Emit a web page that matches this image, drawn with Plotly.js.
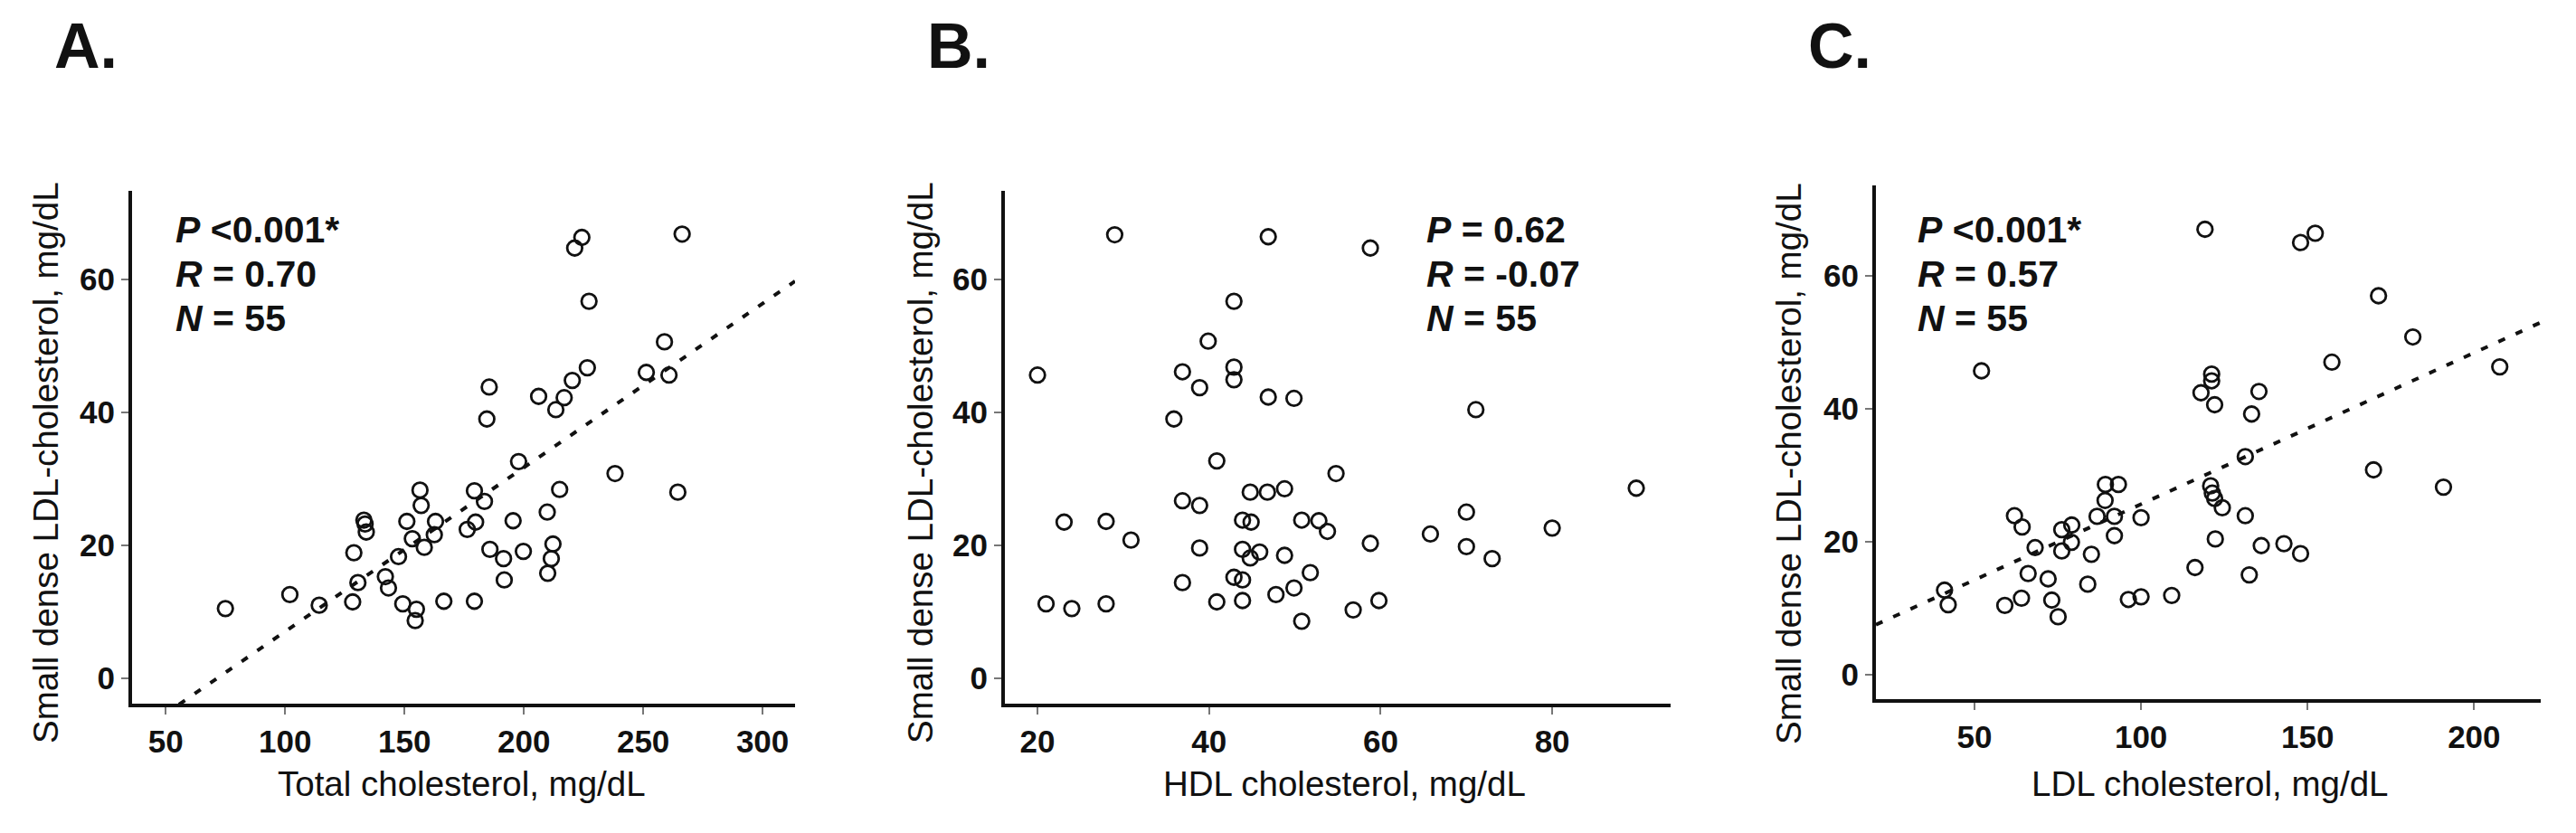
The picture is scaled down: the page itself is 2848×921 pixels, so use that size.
<!DOCTYPE html>
<html>
<head>
<meta charset="utf-8">
<script src="https://cdn.plot.ly/plotly-3.0.1.min.js"></script>
<style>html,body{margin:0;padding:0;background:#fff;}#chart{width:2848px;height:921px;}</style>
</head>
<body>
<div id="chart"></div>
<script>
// ---------- Data ----------
const panelLabels = ["A.", "B.", "C."];
const xTitles = ["Total cholesterol, mg/dL", "HDL cholesterol, mg/dL", "LDL cholesterol, mg/dL"];
const yTitle = "Small dense LDL-cholesterol, mg/dL";

const A_x = [75, 102, 114.3, 128.8, 130.5, 128.3, 133, 133.5, 134, 142, 143.3, 147.5, 149.3, 155, 154.5, 151, 153.3, 156.5, 157, 163, 162.5, 158.3, 166.5, 179.3, 185.5, 184.5, 179.3, 183.5, 179.8, 176.3, 195.5, 185.8, 191.5, 199.8, 191.8, 197.8, 206.2, 213.4, 216.9, 220.3, 221.3, 224.3, 227.3, 226.6, 209.8, 215, 212.2, 211.5, 210, 238.2, 251.3, 258.9, 260.8, 266.3, 264.5];
const A_y = [10.5, 12.6, 11.0, 18.9, 14.4, 11.5, 23.8, 23.2, 22.0, 15.3, 13.6, 18.3, 11.2, 10.4, 8.7, 23.6, 21.0, 28.3, 26.0, 23.6, 21.6, 19.7, 11.6, 11.6, 43.8, 39.0, 28.2, 26.6, 23.5, 22.4, 23.7, 19.4, 18.0, 19.1, 14.8, 32.6, 42.4, 40.4, 42.2, 44.8, 64.7, 66.3, 56.7, 46.7, 25.0, 28.4, 20.2, 18.0, 15.8, 30.8, 46.0, 50.6, 45.6, 66.8, 28.0];

const B_x = [29.0, 46.9, 58.8, 42.9, 39.9, 20.0, 36.9, 42.9, 42.9, 38.9, 46.9, 49.9, 35.9, 40.9, 54.8, 44.8, 46.8, 48.8, 36.9, 38.9, 23.1, 28.0, 30.9, 43.9, 44.9, 50.8, 52.8, 53.8, 65.8, 58.8, 38.9, 43.9, 45.9, 44.8, 48.8, 51.8, 36.9, 42.9, 43.9, 49.9, 47.8, 21.0, 24.0, 28.0, 40.9, 43.9, 50.8, 56.8, 59.8, 70.0, 71.1, 70.0, 73.0, 80.0, 89.8];
const B_y = [66.7, 66.4, 64.7, 56.7, 50.7, 45.6, 46.1, 46.8, 44.9, 43.7, 42.3, 42.1, 39.0, 32.7, 30.8, 28.0, 28.0, 28.5, 26.7, 26.0, 23.5, 23.6, 20.8, 23.8, 23.5, 23.8, 23.7, 22.1, 21.7, 20.3, 19.6, 19.4, 19.0, 18.1, 18.5, 15.9, 14.4, 15.2, 14.8, 13.6, 12.6, 11.2, 10.5, 11.2, 11.5, 11.7, 8.6, 10.3, 11.7, 25.0, 40.4, 19.8, 18.0, 22.6, 28.6];

const C_x = [119.2, 147.9, 152.3, 52.1, 121.2, 121.2, 118.0, 122.1, 135.4, 133.2, 131.3, 120.9, 121.4, 122.1, 124.4, 131.3, 122.3, 136.1, 142.9, 147.9, 116.2, 132.5, 109.2, 100.0, 96.2, 89.3, 93.2, 89.2, 86.8, 92.0, 100.0, 92.0, 62.0, 64.3, 68.2, 76.2, 79.2, 79.1, 76.2, 85.1, 66.1, 72.1, 84.0, 64.1, 59.1, 73.2, 75.1, 41.0, 42.1, 171.3, 181.6, 157.3, 207.7, 169.8, 190.8];
const C_y = [67.0, 65.0, 66.4, 45.7, 45.2, 44.2, 42.4, 40.6, 42.6, 39.2, 32.8, 28.4, 27.3, 26.5, 25.1, 23.9, 20.4, 19.4, 19.7, 18.2, 16.1, 15.0, 11.9, 11.7, 11.3, 28.6, 28.6, 26.2, 23.8, 23.8, 23.6, 20.9, 23.9, 22.2, 19.1, 21.8, 22.5, 19.9, 18.6, 18.1, 15.2, 14.4, 13.6, 11.5, 10.4, 11.2, 8.7, 12.7, 10.5, 57.0, 50.8, 47.0, 46.3, 30.8, 28.2];

const A_xticks = [50, 100, 150, 200, 250, 300];
const B_xticks = [20, 40, 60, 80];
const C_xticks = [50, 100, 150, 200];
const yticks = [0, 20, 40, 60];

const A_stats = ["<i>P</i> &lt;0.001*", "<i>R</i> = 0.70", "<i>N</i> = 55"];
const B_stats = ["<i>P</i> = 0.62", "<i>R</i> = -0.07", "<i>N</i> = 55"];
const C_stats = ["<i>P</i> &lt;0.001*", "<i>R</i> = 0.57", "<i>N</i> = 55"];

// ---------- Helpers ----------
const W = 2848, H = 921;
const FONT = "Liberation Sans, Arial, Helvetica, sans-serif";
const px = v => v / W;
const py = v => 1 - v / H;

function ols(x, y) {
  const n = x.length;
  const mx = x.reduce((a, b) => a + b, 0) / n;
  const my = y.reduce((a, b) => a + b, 0) / n;
  let sxy = 0, sxx = 0;
  for (let i = 0; i < n; i++) { sxy += (x[i] - mx) * (y[i] - my); sxx += (x[i] - mx) ** 2; }
  const b = sxy / sxx;
  return { b: b, a: my - b * mx };
}

// panel geometry (pixels)
const panels = [
  { x: A_x, y: A_y, ticks: A_xticks, xr: [35.9, 313.6], yr: [-3.8, 73.3], left: 146, right: 879, top: 211, bottom: 778, fit: true,
    stats: A_stats, statX: 192, yTitleX: 50, xTitleX: 510, label: 58 },
  { x: B_x, y: B_y, ticks: B_xticks, xr: [16.2, 93.8], yr: [-3.8, 73.3], left: 1111, right: 1847, top: 211, bottom: 778, fit: false,
    stats: B_stats, statX: 1575, yTitleX: 1017, xTitleX: 1486, label: 1023 },
  { x: C_x, y: C_y, ticks: C_xticks, xr: [20.4, 220], yr: [-3.7, 73.6], left: 2074, right: 2809, top: 205, bottom: 773, fit: true,
    stats: C_stats, statX: 2118, yTitleX: 1977, xTitleX: 2443, label: 1997 }
];

const traces = [];
const layout = {
  width: W, height: H,
  margin: { l: 0, r: 0, t: 0, b: 0 },
  paper_bgcolor: "#ffffff", plot_bgcolor: "#ffffff",
  showlegend: false,
  font: { family: FONT, color: "#111111" },
  annotations: []
};

panels.forEach((p, i) => {
  const s = i === 0 ? "" : String(i + 1);
  const xa = "x" + s, ya = "y" + s;
  if (p.fit) {
    const f = ols(p.x, p.y);
    traces.push({
      type: "scatter", mode: "lines", xaxis: xa, yaxis: ya, hoverinfo: "skip",
      x: [p.xr[0], p.xr[1]], y: [f.a + f.b * p.xr[0], f.a + f.b * p.xr[1]],
      line: { color: "#111111", width: 4, dash: "8px,13px" }
    });
  }
  traces.push({
    type: "scatter", mode: "markers", xaxis: xa, yaxis: ya,
    x: p.x, y: p.y,
    marker: { symbol: "circle-open", size: 16.5, color: "#111111", line: { width: 2.8, color: "#111111" } }
  });

  const common = {
    showgrid: false, zeroline: false, showline: true, linecolor: "#111111", linewidth: 4,
    ticks: "outside", ticklen: 8, tickwidth: 2, tickcolor: "#777777",
    tickfont: { family: FONT, size: 35, color: "#111111", weight: "bold" },
    fixedrange: true
  };
  layout["xaxis" + s] = Object.assign({}, common, {
    domain: [px(p.left), px(p.right)], range: p.xr, anchor: ya,
    tickmode: "array", tickvals: p.ticks, ticktext: p.ticks.map(String)
  });
  layout["yaxis" + s] = Object.assign({}, common, {
    domain: [py(p.bottom), py(p.top)], range: p.yr, anchor: xa,
    tickmode: "array", tickvals: yticks, ticktext: yticks.map(String)
  });

  // panel label
  layout.annotations.push({
    xref: "paper", yref: "paper", x: px(p.label), y: py(51), xanchor: "left", yanchor: "middle",
    text: "<b>" + panelLabels[i] + "</b>", showarrow: false,
    font: { family: FONT, size: 70, color: "#111111" }
  });
  // y title
  layout.annotations.push({
    xref: "paper", yref: "paper", x: px(p.yTitleX), y: py(512), xanchor: "center", yanchor: "middle",
    text: yTitle, textangle: -90, showarrow: false,
    font: { family: FONT, size: 38.5, color: "#111111" }
  });
  // x title
  layout.annotations.push({
    xref: "paper", yref: "paper", x: px(p.xTitleX), y: py(866), xanchor: "center", yanchor: "middle",
    text: xTitles[i], showarrow: false,
    font: { family: FONT, size: 38.5, color: "#111111" }
  });
  // stats
  const statY = [254, 303, 352];
  p.stats.forEach((t, k) => {
    layout.annotations.push({
      xref: "paper", yref: "paper", x: px(p.statX), y: py(statY[k]), xanchor: "left", yanchor: "middle",
      text: "<b>" + t + "</b>", showarrow: false,
      font: { family: FONT, size: 41, color: "#111111" }
    });
  });
});

Plotly.newPlot("chart", traces, layout, { staticPlot: true, displayModeBar: false });
</script>
</body>
</html>
